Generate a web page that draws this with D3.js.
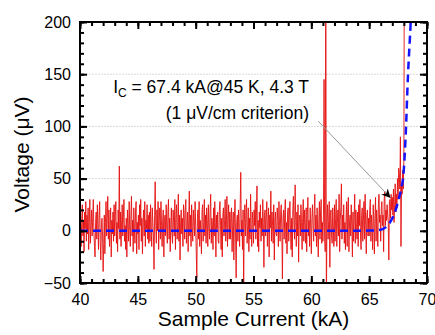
<!DOCTYPE html>
<html>
<head>
<meta charset="utf-8">
<script src="https://cdn.jsdelivr.net/npm/d3@7"></script>
<style>
  html, body { margin: 0; padding: 0; background: #fff; }
  svg { display: block; font-family: "Liberation Sans", Arial, sans-serif; }
</style>
</head>
<body>
<div id="chart"></div>
<script>
// Measured voltage (uV), one row per kA starting at 40 kA, 0.05 kA apart
const noiseStart = 40;
const noiseStep = 0.05;
const noiseRows = [
  [-8, 5, -15, 12, 25, -5, 10, -20, 18, 2, 28, -10, 15, -3, 22, -18, 8, 30, -12, 5],
  [20, -5, 12, 30, 0, -15, -25, 8, 18, -8, 25, 5, -18, 15, 28, -10, -28, 3, 12, -5],
  [-39, -12, 15, -22, 8, 28, -5, 12, 33, -8, 20, -15, 5, 22, -25, 10, -3, 18, -10, 25],
  [-5, 15, 28, -12, 8, -20, 20, 2, 62, -8, 18, -15, 10, 25, -5, 14, 30, -10, 5, -18],
  [12, -25, 20, 5, -10, 28, 0, -15, 15, 33, -5, 10, -20, 22, 3, -12, 18, 28, -22, 8],
  [-3, 15, -18, 25, 5, 30, -10, 12, -22, 8, 20, -5, 28, -15, 10, 2, 25, -8, 15, -12],
  [18, -10, 25, 3, -15, 22, 8, -5, -37, 15, 47, 5, -12, 20, 0, 28, -18, 10, 22, -8],
  [28, 5, -15, 10, 20, -25, 8, 15, -5, 25, 2, -12, 18, 30, -8, 12, -20, 5, 22, -3],
  [-12, 20, 8, -5, 30, -18, 12, 25, -8, 5, 35, -10, 15, -28, 8, 20, -3, 12, -15, 25],
  [15, -8, 22, 30, -12, 5, 18, -20, 10, 38, -5, 15, -15, 25, 3, -10, 20, 8, -5, 28],
  [5, -20, -45, 12, 20, -8, 28, -15, 10, 0, -22, 18, 25, -10, 8, 30, -5, 15, -12, 22],
  [10, -15, 25, 3, -8, 20, 35, -12, 12, 5, -18, 22, -5, 28, 8, -25, 15, 2, 18, -10],
  [-12, 20, 28, 5, -18, 12, -25, 15, 22, -5, 10, 30, -10, 3, 33, -15, 12, 25, -8, 18],
  [-8, 15, 22, -20, 5, 18, -28, 12, 30, -5, -45, 8, 15, -10, 20, 3, -15, 25, 56, -5],
  [10, -18, 20, -55, 8, 25, -5, 15, 30, -12, 5, 22, -20, 12, -8, 35, 2, -15, 18, 8],
  [-12, 20, 5, 28, -8, 15, 43, -15, 10, -20, 18, 3, 25, -10, 12, -5, 30, 8, -35, 15],
  [20, -5, 12, 28, -15, 8, 22, -25, 15, 3, 38, -10, 18, 5, -12, 25, -28, 10, 18, -3],
  [-5, 22, 10, -15, 28, 5, -10, 18, 25, 0, -46, 12, 20, -8, 15, 30, -12, 8, -22, 18],
  [22, -10, 15, 28, 0, -18, 12, -25, 20, 33, 5, -8, 44, 10, -15, 18, -5, 25, -30, 12],
  [15, -5, 25, 8, -18, 12, 30, -10, 20, 5, -12, 22, -20, 15, 32, -5, 10, -15, 22, 3],
  [-22, 12, 25, 5, -10, 18, 35, -5, 15, -15, 22, 0, -25, 12, 28, -8, 18, 30, -12, 8],
  [-10, 15, 145, -5, -20, 260, -80, 12, 25, -8, 10, 28, -35, 15, 20, -5, -12, 22, 5, -15],
  [25, -10, 12, 30, -15, 8, 20, -5, 35, -20, 10, 22, 45, -8, 15, 0, 25, -12, 8, -18],
  [12, 28, -15, 20, 32, -20, 8, 15, -5, 25, 5, -25, 18, -10, 12, 35, -12, 20, 3, -8],
  [18, -15, 25, 5, 30, -5, -18, 15, 22, -10, 10, 28, -8, 35, 5, -22, 15, 20, -5, 12],
  [-5, 20, 30, -10, 15, 5, -18, 25, 10, -22, 12, 32, -10, 20, 5, -15, 25, 35, 8, 15],
  [-10, 22, 28, 5, 15, -20, 30, 38, 5, 20, 10, 25, 15, 8, -28, 28, 30, 12, 35, 20],
  [32, 15, 40, 8, 25, 45, 18, 35, 22, 50, 30, 60, 55, 40, 90, -15, 45, 35, 58, 40],
  [70, 300]
];

// Power-law fit (blue dashed)
const fitCurrents = [40, 64, 65, 66, 66.5, 66.9, 67.2, 67.5, 67.8, 67.95, 68.15, 68.36, 68.59, 68.7];
const fitVolts    = [0, 0, 0.2, 1, 4, 10, 17, 28, 42, 52, 90, 150, 200, 230];

const xTicks = [40, 45, 50, 55, 60, 65, 70];
const yTicks = [-50, 0, 50, 100, 150, 200];
const gridValues = [50, 100, 150];

const width = 435, height = 335;
const margin = { top: 22, right: 8, bottom: 52, left: 80 };
const plotW = width - margin.left - margin.right;
const plotH = height - margin.top - margin.bottom;

const x = d3.scaleLinear().domain([40, 70]).range([0, plotW]);
const y = d3.scaleLinear().domain([-50, 200]).range([plotH, 0]);

const svg = d3.select('#chart').append('svg')
  .attr('width', width)
  .attr('height', height);

const g = svg.append('g').attr('transform', `translate(${margin.left},${margin.top})`);

g.append('clipPath').attr('id', 'clip')
  .append('rect').attr('width', plotW).attr('height', plotH);

// light grid lines
g.selectAll('.grid').data(gridValues).enter().append('line')
  .attr('x1', 0).attr('x2', plotW)
  .attr('y1', d => y(d)).attr('y2', d => y(d))
  .attr('stroke', '#d8d8d8')
  .attr('stroke-width', 1)
  .attr('stroke-dasharray', '2,1');

// red measured trace
const noise = [];
noiseRows.forEach((row, k) => {
  row.forEach((v, j) => noise.push({ i: noiseStart + k + j * noiseStep, v: v }));
});

const plot = g.append('g').attr('clip-path', 'url(#clip)');

plot.append('path')
  .datum(noise)
  .attr('fill', 'none')
  .attr('stroke', '#e41010')
  .attr('stroke-width', 0.9)
  .attr('d', d3.line().x(d => x(d.i)).y(d => y(d.v)));

// blue dashed fit
const fit = fitCurrents.map((c, k) => ({ i: c, v: fitVolts[k] }));
plot.append('path')
  .datum(fit)
  .attr('fill', 'none')
  .attr('stroke', '#1414ff')
  .attr('stroke-width', 2.5)
  .attr('stroke-dasharray', '8,5')
  .attr('d', d3.line().x(d => x(d.i)).y(d => y(d.v)).curve(d3.curveMonotoneX));

// axes, ticks pointing inward on all four sides
function styleAxis(sel) {
  sel.select('.domain').remove();
  sel.selectAll('line').attr('stroke', '#000').attr('stroke-width', 2);
  sel.selectAll('text').attr('font-size', '16px').attr('fill', '#000')
    .attr('font-family', '"Liberation Sans", Arial, sans-serif');
}

const xMinor = d3.range(40, 71, 1);
const yMinor = d3.range(-50, 201, 10);

g.append('g').attr('transform', `translate(0,${plotH})`)
  .call(d3.axisBottom(x).tickValues(xMinor).tickSize(-4).tickFormat(''))
  .call(styleAxis);
g.append('g')
  .call(d3.axisTop(x).tickValues(xMinor).tickSize(-4).tickFormat(''))
  .call(styleAxis);
g.append('g')
  .call(d3.axisLeft(y).tickValues(yMinor).tickSize(-4).tickFormat(''))
  .call(styleAxis);
g.append('g').attr('transform', `translate(${plotW},0)`)
  .call(d3.axisRight(y).tickValues(yMinor).tickSize(-4).tickFormat(''))
  .call(styleAxis);

g.append('g').attr('transform', `translate(0,${plotH})`)
  .call(d3.axisBottom(x).tickValues(xTicks).tickSize(-7).tickPadding(11).tickFormat(d3.format('d')))
  .call(styleAxis);
g.append('g')
  .call(d3.axisTop(x).tickValues(xTicks).tickSize(-7).tickFormat(''))
  .call(styleAxis);
g.append('g')
  .call(d3.axisLeft(y).tickValues(yTicks).tickSize(-7).tickPadding(9).tickFormat(d3.format('d')))
  .call(styleAxis);
g.append('g').attr('transform', `translate(${plotW},0)`)
  .call(d3.axisRight(y).tickValues(yTicks).tickSize(-7).tickFormat(''))
  .call(styleAxis);

// frame
g.append('rect')
  .attr('width', plotW).attr('height', plotH)
  .attr('fill', 'none')
  .attr('stroke', '#000')
  .attr('stroke-width', 2);

// annotation
const note = g.append('text')
  .attr('x', x(59.8)).attr('y', y(132))
  .attr('text-anchor', 'end')
  .attr('font-size', '17.5px')
  .attr('fill', '#000');
note.append('tspan').text('I');
note.append('tspan').attr('font-size', '12px').attr('dy', 4).text('C');
note.append('tspan').attr('dy', -4).text(' = 67.4 kA@45 K, 4.3 T');

g.append('text')
  .attr('x', x(59.8)).attr('y', y(107))
  .attr('text-anchor', 'end')
  .attr('font-size', '17.5px')
  .attr('fill', '#000')
  .text('(1 \u03bcV/cm criterion)');

svg.append('defs').append('marker')
  .attr('id', 'arrow')
  .attr('viewBox', '0 0 10 10')
  .attr('refX', 9).attr('refY', 5)
  .attr('markerWidth', 9).attr('markerHeight', 9)
  .attr('markerUnits', 'userSpaceOnUse')
  .attr('orient', 'auto')
  .append('path')
  .attr('d', 'M0,0 L10,5 L0,10 L3,5 Z')
  .attr('fill', '#000');

g.append('line')
  .attr('x1', x(60.6)).attr('y1', y(105))
  .attr('x2', x(66.8)).attr('y2', y(32))
  .attr('stroke', '#999')
  .attr('stroke-width', 1)
  .attr('marker-end', 'url(#arrow)');

// axis titles
svg.append('text')
  .attr('x', margin.left + plotW / 2)
  .attr('y', 326)
  .attr('text-anchor', 'middle')
  .attr('font-size', '21px')
  .attr('fill', '#000')
  .text('Sample Current (kA)');

svg.append('text')
  .attr('transform', `translate(29,${margin.top + plotH / 2 + 2}) rotate(-90)`)
  .attr('text-anchor', 'middle')
  .attr('font-size', '21px')
  .attr('fill', '#000')
  .text('Voltage (\u03bcV)');
</script>
</body>
</html>
